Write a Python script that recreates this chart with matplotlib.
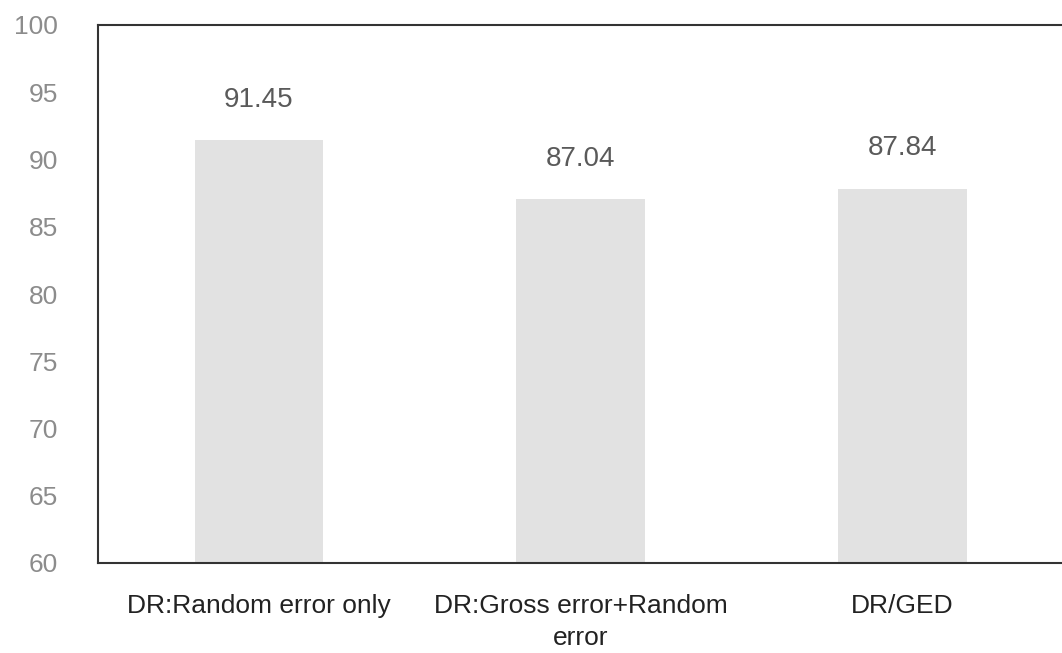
import matplotlib.pyplot as plt

categories = ["DR:Random error only", "DR:Gross error+Random\nerror", "DR/GED"]
values = [91.45, 87.04, 87.84]
yticks = [60, 65, 70, 75, 80, 85, 90, 95, 100]

fig = plt.figure(figsize=(10.62, 6.53), dpi=100)
# axes frame: left spine at x=98px, top at y=25px, bottom at y=563px
ax = fig.add_axes([98 / 1062, 90 / 653, 965 / 1062, 538 / 653])

x = range(len(categories))
ax.bar(x, values, width=0.4, color="#e2e2e2")
for xi, v in zip(x, values):
    ax.text(xi, v + 3.0, f"{v:.2f}", ha="center", va="center",
            fontsize=20, color="#5a5a5a", family="Liberation Sans")

ax.set_xlim(-0.5, 2.5)
ax.set_ylim(60, 100)
ax.set_yticks(yticks)
ax.set_yticklabels([str(t) for t in yticks], fontsize=19, color="#8c8c8c",
                   family="Liberation Sans")
ax.set_xticks(list(x))
ax.set_xticklabels(categories, fontsize=19, color="#222222",
                   family="Liberation Sans", linespacing=1.45)
ax.tick_params(axis="both", length=0)
ax.tick_params(axis="y", pad=29)
ax.tick_params(axis="x", pad=22)

for s in ["left", "top", "bottom"]:
    ax.spines[s].set_color("#333333")
    ax.spines[s].set_linewidth(1.5)
ax.spines["right"].set_visible(False)

fig.savefig("out.png", dpi=100)
